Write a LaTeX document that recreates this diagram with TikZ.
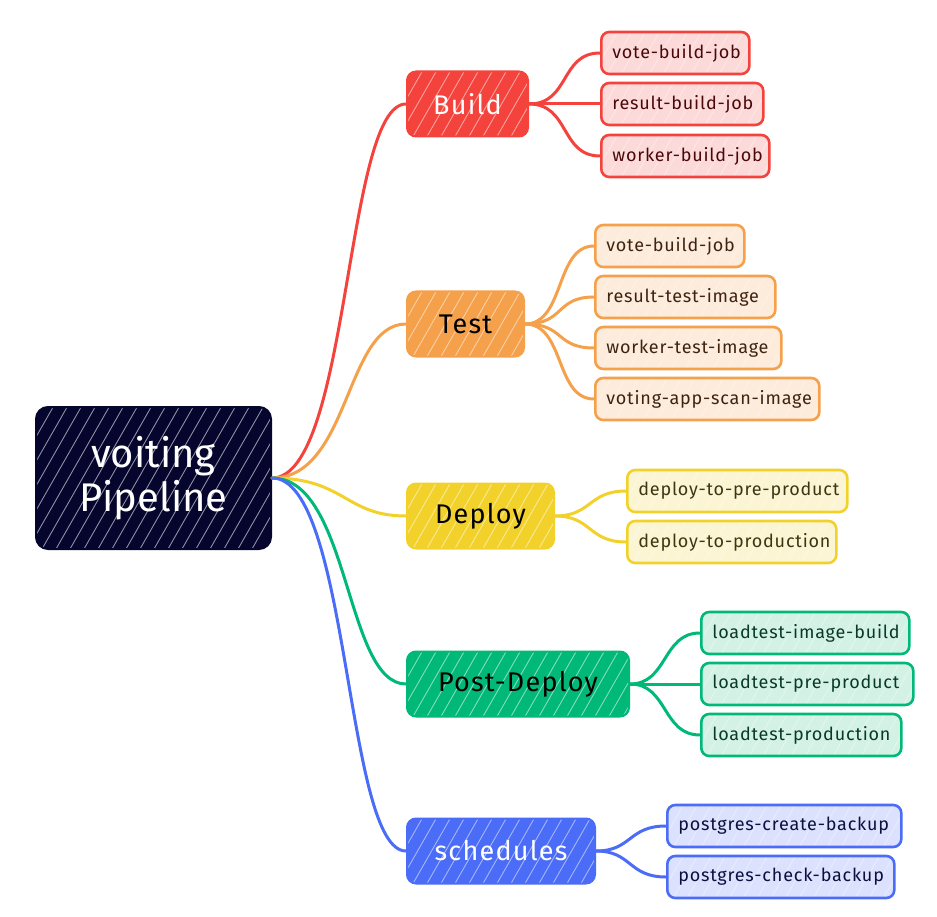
\documentclass[tikz,border=0pt]{standalone}
\usepackage{fontspec}
\setmainfont{Fira Sans}
\newfontfamily\spacedfont[LetterSpace=4.5]{Fira Sans}
\definecolor{cRoot}{HTML}{05052E}
\definecolor{cRed}{HTML}{F4433C}
\definecolor{cRedL}{HTML}{FDDADA}
\definecolor{cRedT}{HTML}{4A0808}
\definecolor{cOra}{HTML}{F5A04A}
\definecolor{cOraL}{HTML}{FDEBDB}
\definecolor{cOraT}{HTML}{3E2410}
\definecolor{cYel}{HTML}{F2D22A}
\definecolor{cYelL}{HTML}{FCF5D3}
\definecolor{cYelT}{HTML}{3E3610}
\definecolor{cGre}{HTML}{00B978}
\definecolor{cGreL}{HTML}{D3F2E5}
\definecolor{cGreT}{HTML}{083A28}
\definecolor{cBlu}{HTML}{4A6CF7}
\definecolor{cBluL}{HTML}{DCE2FD}
\definecolor{cBluT}{HTML}{0A1040}
\tikzset{
  x=1pt, y=-1pt,
  hatch/.style={path picture={
    \foreach \k in {-260,-246,...,300}
      \draw[white, opacity=#1, line width=0.9pt]
        ([xshift=\k pt]path picture bounding box.south west) -- ++(160pt,280pt);}},
  rootbox/.style={draw=cRoot, fill=cRoot, line width=2pt, rounded corners=12pt,
    text=white, font=\fontsize{40}{46}\selectfont, align=center,
    minimum width=235, minimum height=142, anchor=west, hatch=0.55},
  topic/.style={draw=#1, fill=#1, line width=2pt, rounded corners=9pt,
    font=\spacedfont\fontsize{27}{32}\selectfont, minimum height=65, anchor=west, hatch=0.5},
  sub/.style n args={3}{draw=#1, fill=#2, text=#3, line width=2.6pt, rounded corners=8pt,
    font=\spacedfont\fontsize{18}{21}\selectfont, minimum height=42, anchor=west, hatch=0.35,
    inner xsep=11pt, align=left},
  link/.style={draw=#1, line width=3pt, line cap=round},
}
\begin{document}
\begin{tikzpicture}
\useasboundingbox (0,0) rectangle (937,917);

% root
\node[rootbox] (root) at (35,478) {voiting\\[-2pt]Pipeline};

% topics
\node[topic=cRed, text=white, minimum width=121] (build) at (406,104) {Build};
\node[topic=cOra, text=black, minimum width=117] (test) at (406,324) {Test};
\node[topic=cYel, text=black, minimum width=147] (deploy) at (406,516) {Deploy};
\node[topic=cGre, text=black, minimum width=222] (post) at (406,684) {Post-Deploy};
\node[topic=cBlu, text=white, minimum width=188] (sched) at (406,851) {schedules};

% root connectors
\draw[link=cRed] (root.east) .. controls (350,478) and (345,104) .. (build.west);
\draw[link=cOra] (root.east) .. controls (350,478) and (345,324) .. (test.west);
\draw[link=cYel] (root.east) .. controls (345,478) and (345,516) .. (deploy.west);
\draw[link=cGre] (root.east) .. controls (350,478) and (345,684) .. (post.west);
\draw[link=cBlu] (root.east) .. controls (350,478) and (345,851) .. (sched.west);

% build children
\node[sub={cRed}{cRedL}{cRedT}, text width=126] (b1) at (600,53) {\mbox{vote-build-job}};
\node[sub={cRed}{cRedL}{cRedT}, text width=140] (b2) at (600,104) {\mbox{result-build-job}};
\node[sub={cRed}{cRedL}{cRedT}, text width=146] (b3) at (600,156) {\mbox{worker-build-job}};
\foreach \c in {b1,b2,b3}
  \draw[link=cRed] (build.east) .. controls (570,104) and (560,0|-\c.west) .. (\c.west);

% test children
\node[sub={cOra}{cOraL}{cOraT}, text width=127] (t1) at (594,246) {\mbox{vote-build-job}};
\node[sub={cOra}{cOraL}{cOraT}, text width=158] (t2) at (594,297) {\mbox{result-test-image}};
\node[sub={cOra}{cOraL}{cOraT}, text width=164] (t3) at (594,348) {\mbox{worker-test-image}};
\node[sub={cOra}{cOraL}{cOraT}, text width=202] (t4) at (594,399) {\mbox{voting-app-scan-image}};
\foreach \c in {t1,t2,t3,t4}
  \draw[link=cOra] (test.east) .. controls (565,324) and (555,0|-\c.west) .. (\c.west);

% deploy children
\node[sub={cYel}{cYelL}{cYelT}, text width=198] (d1) at (626,491) {\mbox{deploy-to-pre-product}};
\node[sub={cYel}{cYelL}{cYelT}, text width=187] (d2) at (626,542) {\mbox{deploy-to-production}};
\foreach \c in {d1,d2}
  \draw[link=cYel] (deploy.east) .. controls (592,516) and (588,0|-\c.west) .. (\c.west);

% post-deploy children
\node[sub={cGre}{cGreL}{cGreT}, text width=186] (p1) at (700,633) {\mbox{loadtest-image-build}};
\node[sub={cGre}{cGreL}{cGreT}, text width=190] (p2) at (700,684) {\mbox{loadtest-pre-product}};
\node[sub={cGre}{cGreL}{cGreT}, text width=178] (p3) at (700,735) {\mbox{loadtest-production}};
\foreach \c in {p1,p2,p3}
  \draw[link=cGre] (post.east) .. controls (668,684) and (662,0|-\c.west) .. (\c.west);

% schedules children
\node[sub={cBlu}{cBluL}{cBluT}, text width=212] (s1) at (666,826) {\mbox{postgres-create-backup}};
\node[sub={cBlu}{cBluL}{cBluT}, text width=205] (s2) at (666,877) {\mbox{postgres-check-backup}};
\foreach \c in {s1,s2}
  \draw[link=cBlu] (sched.east) .. controls (632,851) and (628,0|-\c.west) .. (\c.west);
\end{tikzpicture}
\end{document}
